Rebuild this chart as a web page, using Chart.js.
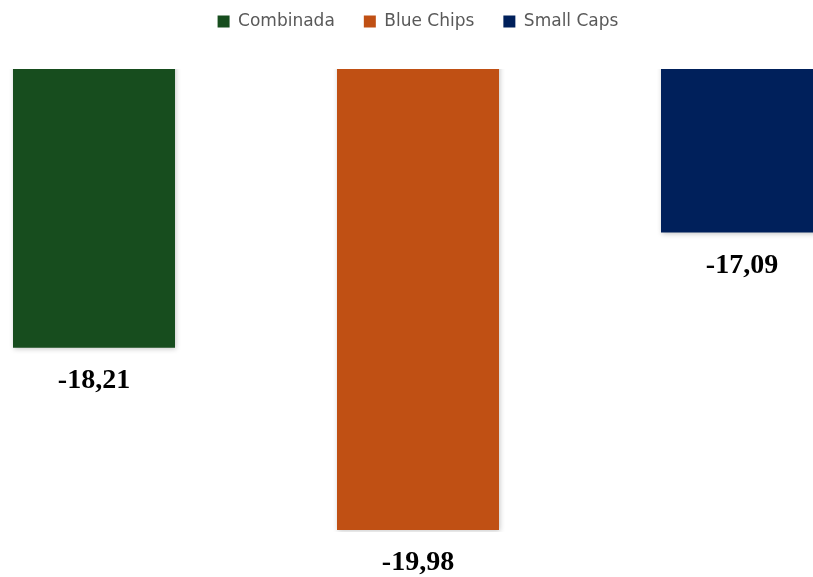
<!DOCTYPE html>
<html>
<head>
<meta charset="utf-8">
<script src="https://cdn.jsdelivr.net/npm/chart.js@4/dist/chart.umd.min.js"></script>
<style>
  html, body { margin: 0; padding: 0; background: #ffffff; overflow: hidden; }
  body { width: 813px; height: 577px; position: relative; }
  #wrap { position: absolute; left: -68px; top: 0; width: 972px; height: 577px; }
</style>
</head>
<body>
<div id="wrap"><canvas id="c"></canvas></div>
<script>
const categories = [''];
const seriesNames = ['Combinada', 'Blue Chips', 'Small Caps'];
const seriesValues = [-18.21, -19.98, -17.09];
const seriesColors = ['#174d1e', '#c05014', '#00205b'];
const yMin = -20;
const yMax = -15.5;

const fmt = v => v.toFixed(2).replace('.', ',');

const legendSpacer = {
  id: 'legendSpacer',
  beforeInit(chart) {
    const origFit = chart.legend.fit;
    chart.legend.fit = function () {
      origFit.call(this);
      this.height += 29;
    };
  }
};

const shadowPlugin = {
  id: 'barShadow',
  beforeDatasetsDraw(chart) {
    const ctx = chart.ctx;
    ctx.save();
    ctx.shadowColor = 'rgba(0,0,0,0.22)';
    ctx.shadowBlur = 5;
    ctx.shadowOffsetX = 1;
    ctx.shadowOffsetY = 1;
  },
  afterDatasetsDraw(chart) {
    chart.ctx.restore();
  }
};

const labelPlugin = {
  id: 'valueLabels',
  afterDatasetsDraw(chart) {
    const ctx = chart.ctx;
    ctx.save();
    ctx.font = 'bold 28px "Liberation Serif", "Times New Roman", serif';
    ctx.fillStyle = '#000000';
    ctx.textAlign = 'center';
    ctx.textBaseline = 'alphabetic';
    chart.data.datasets.forEach((ds, i) => {
      const meta = chart.getDatasetMeta(i);
      meta.data.forEach((bar, j) => {
        const v = ds.data[j];
        ctx.fillText(fmt(v), bar.x, bar.y + 40);
      });
    });
    ctx.restore();
  }
};

new Chart(document.getElementById('c'), {
  type: 'bar',
  data: {
    labels: categories,
    datasets: seriesNames.map((name, i) => ({
      label: name,
      data: [seriesValues[i]],
      backgroundColor: seriesColors[i],
      borderWidth: 0
    }))
  },
  options: {
    responsive: true,
    maintainAspectRatio: false,
    animation: false,
    categoryPercentage: 1.0,
    barPercentage: 0.5,
    layout: { padding: { top: -16, bottom: 45, left: 0, right: 0 } },
    plugins: {
      legend: {
        position: 'top',
        labels: {
          boxWidth: 12,
          boxHeight: 12,
          padding: 29,
          color: '#595959',
          font: { family: '"DejaVu Sans", sans-serif', size: 17 }
        }
      },
      tooltip: { enabled: false }
    },
    scales: {
      x: { display: false },
      y: { display: false, min: yMin, max: yMax }
    }
  },
  plugins: [legendSpacer, shadowPlugin, labelPlugin]
});
</script>
</body>
</html>
